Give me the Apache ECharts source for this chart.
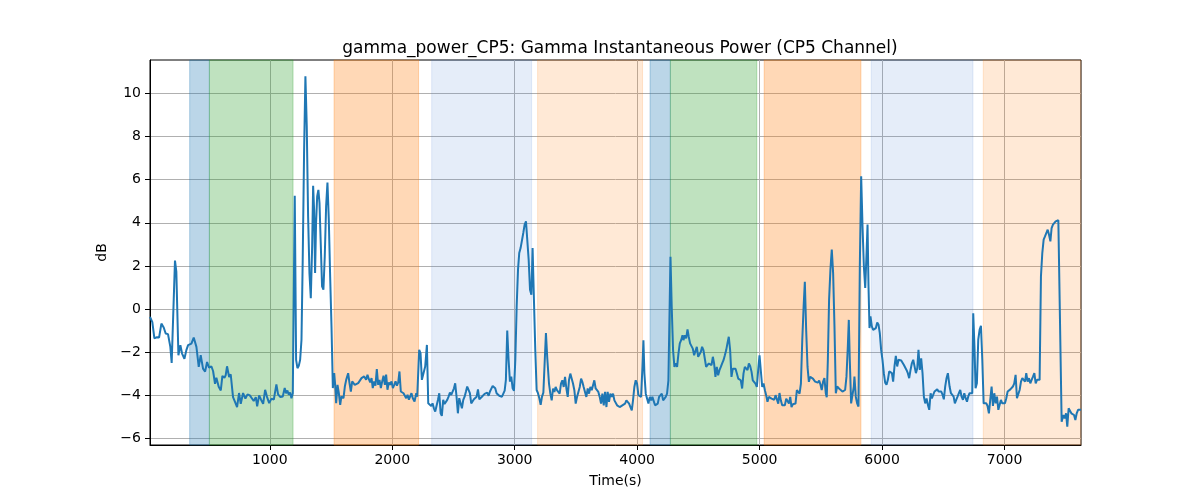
<!DOCTYPE html>
<html>
<head>
<meta charset="utf-8">
<script src="https://cdn.jsdelivr.net/npm/echarts@6/dist/echarts.min.js"></script>
<style>
html,body{margin:0;padding:0;background:#fff;}
#chart{width:1200px;height:500px;}
</style>
</head>
<body>
<div id="chart"></div>
<script>
// ---------------- DATA ----------------
const chartTitle = 'gamma_power_CP5: Gamma Instantaneous Power (CP5 Channel)';
const xName = 'Time(s)';
const yName = 'dB';
const xTicks = [1000, 2000, 3000, 4000, 5000, 6000, 7000];
const yTicks = [-6, -4, -2, 0, 2, 4, 6, 8, 10];
const xRange = [22, 7624];
const yRange = [-6.3, 11.55];

const timeSec = [
22,41,58,79,96,115,134,150,169,188,199,210,226,237,254,270,284,303,319,333,346,360,379,401,420,436,455,472,488,504,523,537,553,564,583,600,613,630,640,651,668,681,700,717,733,749,763,782,801,818,837,853,869,886,897,913,929,946,962,978,995,1014,1033,1054,1068,1087,
1106,1122,1133,1144,1155,1166,1177,1188,1204,1215,1226,1237,1248,1259,1269,1280,1291,1302,1313,1324,1335,1346,1354,1362,1370,1378,1387,1397,1406,1417,1427,1438,1449,1460,1471,1482,1493,1504,1515,1526,1534,1542,1553,1564,1575,1585,1602,1613,1624,1640,1651,1662,1673,1684,1694,1705,1722,1738,1749,1760,1771,1787,1798,1809,1820,1831,1841,1852,1863,1874,1885,1896,1907,1918,1929,1940,1950,1961,1972,1983,1994,2005,2016,2027,2038,2049,2059,2070,2081,2092,2103,2114,2125,2136,2147,2157,2168,2182,2196,
2204,2220,2231,2242,2258,2269,2283,2294,2307,2318,2329,2340,2351,2362,2373,2384,2395,2405,2416,2427,2438,2449,2460,2471,2482,2493,2504,2514,2525,2536,2547,2558,2569,2580,2591,2602,2612,2623,2634,2645,2656,2667,2678,2689,2700,2711,2721,2732,2743,2754,2765,2776,2787,2798,2809,2820,2830,2841,2852,2863,2874,2885,2896,2907,2918,2928,2939,2950,2961,2972,2983,2994,3005,3016,3027,3037,3048,3059,3070,3081,3092,3103,3114,3125,3136,3146,3157,3168,3179,3190,3201,3212,3223,3234,3245,3255,3266,
3280,3291,3302,3313,3324,3334,3345,3356,3367,3378,3389,3400,3411,3422,3433,3443,3454,3465,3476,3487,3498,3509,3520,3531,3542,3552,3563,3574,3585,3596,3607,3618,3629,3640,3650,3661,3672,3683,3694,3705,3716,3727,3738,3749,3759,3770,3781,3792,3803,3814,3825,3836,3847,3857,3868,3879,3890,3901,3912,3923,3934,3945,3956,3966,3977,3988,3999,4010,4021,4032,4043,4051,4059,4070,4081,4092,4103,4114,4124,4135,4146,4157,4168,4179,4190,4201,4212,4223,4233,4244,4255,4272,4282,4293,4304,4315,4326,4337,4348,4359,4370,
4378,4389,4400,4411,4421,4432,4443,4454,4465,4476,4487,4498,4509,4520,4530,4541,4552,4563,4574,4585,4596,4607,4618,4628,4639,4650,4661,4672,4683,4694,4705,4716,4727,4737,4748,4759,4770,4781,4792,4803,4814,4825,4836,4846,4857,4868,4879,4890,4901,4912,4923,4934,4944,4955,4966,4977,4988,4999,5010,5021,5032,5043,5053,5064,5075,5086,5097,5108,5119,5130,5141,5152,5162,5173,5184,5195,5206,5217,5228,5239,5250,5260,5271,5282,5293,5304,5315,5326,5337,5348,5359,5369,5380,5391,5402,5413,5424,5435,5446,
5453,5464,5475,5486,5497,5507,5518,5529,5540,5548,5557,5567,5578,5589,5600,5611,5622,5633,5644,5655,5665,5676,5687,5698,5709,5720,5728,5736,5747,5758,5769,5774,5785,5796,5807,5818,5829,5840,5851,5862,5873,5881,5889,5897,5905,5916,5927,5938,5949,5960,5971,5981,5992,6003,6014,6025,6036,6047,6058,6069,6080,6090,6101,6112,6123,6134,6145,6156,6167,6178,6188,6199,6210,6221,6232,6243,6254,6265,6276,6287,6297,6308,6319,6330,6341,6352,6363,6374,6385,6396,6406,6417,6428,6439,6450,6461,6472,6483,6494,6504,6515,6526,6537,
6540,6551,6562,6573,6584,6594,6605,6616,6627,6638,6649,6660,6671,6682,6693,6703,6714,6725,6736,6744,6755,6763,6774,6785,6796,6807,6818,6829,6840,6851,6861,6872,6883,6894,6905,6916,6927,6938,6949,6960,6970,6981,6992,7003,7014,7025,7036,7047,7058,7068,7079,7090,7101,7112,7123,7134,7145,7156,7167,7177,7188,7199,7210,7221,7232,7243,7254,7265,7275,7286,7297,7308,7319,7330,7341,7352,7363,7374,7384,7395,7406,7417,7428,7439,7444,7466,7480,7491,7502,7512,7523,7534,7545,7556,7567,7578,7589,7600,7616,7624
];

const gammaDb = [
-0.36,-0.6,-1.36,-1.3,-1.32,-0.67,-0.85,-1.13,-1.16,-1.75,-2.5,-2.45,2.25,1.74,-2.14,-1.67,-2.06,-2.3,-1.9,-1.67,-1.75,-1.6,-1.32,-1.75,-2.68,-2.14,-2.76,-2.9,-2.45,-2.71,-2.65,-2.87,-3.46,-3.18,-3.6,-3.77,-3.1,-3.18,-3.07,-2.65,-3.15,-3.02,-4.08,-4.31,-4.54,-3.89,-4.39,-3.89,-4.15,-3.95,-4.0,-4.08,-4.26,-4.08,-4.51,-4.0,-4.2,-4.39,-3.74,-4.08,-4.36,-4.15,-4.2,-3.49,-3.95,-4.08,
-4.05,-3.66,-3.9,-3.77,-3.97,-3.86,-4.13,-3.9,5.26,-2.35,-2.74,-2.63,-2.35,-1.42,2.29,7.23,10.79,8.47,4.3,1.67,0.51,2.9,5.72,4.6,1.67,3.99,5.22,5.53,4.92,2.9,1.05,0.9,2.44,4.76,5.87,4.14,1.51,-0.8,-3.66,-2.97,-3.51,-4.36,-3.51,-3.9,-4.44,-4.05,-4.13,-3.59,-3.28,-2.97,-3.43,-3.82,-3.35,-3.35,-3.51,-3.59,-3.43,-3.51,-3.2,-3.25,-3.12,-3.28,-3.04,-3.25,-3.4,-3.2,-3.66,-3.35,-3.55,-2.78,-3.51,-3.28,-3.66,-3.35,-3.09,-3.51,-3.04,-3.74,-3.4,-3.51,-3.35,-3.66,-3.51,-3.35,-3.55,-3.4,-2.89,-3.82,-3.9,-3.9,-3.97,-4.13,-3.97,-4.2,-4.28,-3.9,-4.13,-4.28,-3.9,
-4.06,-1.89,-2.04,-3.28,-3.2,-2.66,-1.66,-4.37,-4.4,-4.49,-4.37,-4.6,-4.75,-4.75,-4.21,-3.9,-4.83,-4.95,-4.21,-4.4,-4.49,-4.21,-4.06,-3.87,-3.98,-3.82,-3.67,-3.44,-4.06,-4.83,-4.13,-4.21,-4.6,-4.21,-4.06,-3.82,-3.59,-3.51,-3.9,-4.37,-4.29,-4.18,-4.13,-4.06,-3.72,-4.18,-4.13,-4.06,-3.98,-3.93,-3.9,-3.87,-4.02,-3.82,-3.75,-3.56,-3.59,-3.67,-3.9,-3.98,-4.02,-4.02,-4.06,-3.98,-3.78,-3.28,-0.99,-2.35,-3.36,-3.13,-3.67,-3.78,-2.35,0.12,1.83,2.6,2.83,2.91,3.53,3.92,4.07,4.02,2.29,0.9,0.67,2.83,0.43,-1.89,-3.75,-3.9,-4.13,-4.44,-4.06,-3.87,-3.82,-1.11,-2.28,
-3.45,-3.92,-4.23,-3.68,-3.84,-3.61,-3.76,-3.84,-3.92,-3.45,-3.3,-3.61,-3.14,-3.68,-4.07,-3.3,-2.99,-2.91,-3.45,-3.76,-4.38,-4.07,-3.99,-3.61,-3.22,-3.37,-3.61,-3.58,-4.07,-3.68,-3.92,-3.61,-3.76,-3.84,-3.3,-3.68,-3.76,-3.84,-4.07,-4.38,-3.92,-4.46,-3.84,-4.54,-3.84,-4.3,-3.92,-4.07,-3.92,-4.23,-4.3,-4.46,-4.5,-4.54,-4.5,-4.46,-4.54,-4.38,-4.23,-4.3,-4.38,-4.54,-4.69,-4.23,-3.61,-3.3,-3.45,-3.99,-4.07,-4.07,-2.68,-1.44,-2.99,-3.92,-4.15,-4.38,-4.07,-4.23,-4.07,-4.15,-4.46,-4.54,-4.38,-4.07,-4.07,-3.92,-4.23,-4.3,-4.07,-3.92,-3.3,2.43,0.11,-1.9,-2.68,-2.52,-2.68,-2.06,-1.59,-1.44,-1.21,
-1.44,-1.21,-1.36,-0.94,-1.28,-1.59,-1.52,-1.83,-2.14,-2.06,-1.75,-2.21,-2.14,-1.98,-1.75,-1.9,-2.29,-2.68,-2.6,-2.52,-2.45,-2.6,-2.21,-2.52,-3.14,-2.68,-3.07,-2.83,-2.68,-2.52,-2.37,-2.14,-1.9,-1.59,-1.28,-1.9,-3.14,-2.76,-2.83,-2.76,-2.99,-3.22,-3.14,-3.3,-3.68,-2.99,-2.68,-2.76,-2.83,-2.52,-2.65,-2.91,-3.3,-3.27,-3.45,-3.61,-2.83,-2.14,-2.21,-3.61,-3.45,-3.76,-3.99,-4.3,-4.07,-4.15,-4.15,-4.07,-4.2,-3.99,-3.95,-4.38,-3.89,-4.23,-4.46,-4.54,-4.46,-4.15,-4.07,-4.38,-4.07,-4.54,-4.41,-4.46,-4.38,-3.76,-3.84,-3.92,-3.45,-1.44,0.11,1.27,-0.98,-2.68,-3.37,-3.14,-3.22,-3.22,-3.3,
-3.36,-3.28,-3.41,-3.31,-3.51,-3.75,-3.36,-3.2,-3.9,-4.09,-2.35,0.43,1.83,2.76,1.67,-0.8,-3.9,-3.59,-3.67,-3.72,-3.75,-3.82,-3.9,-3.75,-3.13,-1.73,-0.5,-2.35,-4.37,-4.44,-3.59,-3.13,-4.06,-4.37,-4.52,1.98,6.16,3.84,1.98,0.98,2.6,3.92,1.05,-0.88,-0.34,-0.8,-0.96,-1.04,-0.88,-0.62,-0.73,-1.11,-1.89,-2.35,-2.97,-3.41,-3.51,-3.28,-2.89,-2.82,-2.97,-3.36,-2.66,-2.17,-2.66,-2.35,-2.43,-2.38,-2.43,-2.59,-2.51,-2.82,-2.97,-3.2,-2.82,-2.51,-2.35,-2.35,-2.97,-2.74,-1.89,-2.82,-2.28,-2.97,-4.06,-4.37,-4.14,-4.44,-4.67,-3.9,-4.14,-3.98,-3.82,-3.75,-3.72,-3.82,-3.9,-3.82,-3.98,-4.18,-3.59,-3.2,-2.97,
-2.89,-3.59,-3.9,-3.98,-4.06,-4.37,-4.21,-4.06,-3.9,-3.75,-4.06,-4.21,-3.9,-4.13,-4.29,-4.06,-3.9,-3.82,-3.9,-0.19,-1.89,-3.67,-3.44,-1.42,-0.96,-0.77,-2.35,-4.37,-4.44,-4.37,-4.49,-4.83,-4.21,-3.59,-4.49,-3.9,-4.37,-4.06,-4.67,-4.75,-4.21,-4.37,-4.29,-4.37,-4.13,-3.82,-3.75,-3.72,-3.78,-3.59,-3.44,-3.05,-4.13,-4.13,-3.75,-3.36,-3.2,-3.25,-3.36,-2.97,-3.36,-3.2,-3.44,-3.28,-3.13,-2.97,-3.44,-3.28,-3.36,-3.28,1.52,2.6,3.22,3.37,3.41,3.68,3.45,3.14,3.76,3.92,3.96,4.07,4.15,4.12,4.1,-5.22,-4.91,-5.06,-4.83,-5.45,-4.6,-4.67,-4.83,-4.91,-4.91,-5.14,-4.83,-4.67,-4.64,-4.67
];

// shaded periods (seconds) and their kind
const spanStart = [346, 507, 1525, 2322, 3187, 4105, 4271, 5037, 5911, 6826];
const spanEnd   = [507, 1190, 2215, 3138, 4044, 4271, 4977, 5827, 6742, 7624];
const spanKind  = ['blue', 'green', 'orange', 'lightblue', 'lightorange', 'blue', 'green', 'orange', 'lightblue', 'lightorange'];

// ---------------- STYLE ----------------
const kindColor = {
  blue: 'rgba(31,119,180,0.3)',
  green: 'rgba(44,160,44,0.3)',
  orange: 'rgba(255,127,14,0.3)',
  lightblue: 'rgba(70,130,210,0.14)',
  lightorange: 'rgba(255,127,14,0.17)'
};
const FONT = 'DejaVu Sans';
const minus = v => String(v).replace('-', '\u2212');

const lineData = timeSec.map((t, i) => [t, gammaDb[i]]);
const areas = spanStart.map((s, i) => [
  { xAxis: s, itemStyle: { color: kindColor[spanKind[i]], borderColor: kindColor[spanKind[i]], borderWidth: 1 } },
  { xAxis: spanEnd[i] }
]);

const chart = echarts.init(document.getElementById('chart'), null, { renderer: 'canvas' });
chart.setOption({
  backgroundColor: '#ffffff',
  animation: false,
  title: {
    text: chartTitle,
    left: 615,
    textAlign: 'center',
    top: 35,
    textStyle: { fontFamily: FONT, fontSize: 17, fontWeight: 'normal', color: '#000' }
  },
  grid: {
    left: 150, right: 119, top: 60, bottom: 55,
    show: true, borderColor: '#000', borderWidth: 1, backgroundColor: 'transparent'
  },
  xAxis: {
    type: 'value',
    min: xRange[0], max: xRange[1],
    splitNumber: 8,
    name: xName, nameLocation: 'middle', nameGap: 29,
    nameTextStyle: { fontFamily: FONT, fontSize: 14, color: '#000' },
    axisLine: { show: true, onZero: false, lineStyle: { color: '#000', width: 1 } },
    axisTick: { show: true, length: 5, lineStyle: { color: '#000', width: 1 }, customValues: xTicks },
    axisLabel: { fontFamily: FONT, fontSize: 14, color: '#000', margin: 8, customValues: xTicks,
      formatter: v => minus(v) },
    splitLine: { show: true, lineStyle: { color: '#b0b0b0', width: 1 } }
  },
  yAxis: {
    type: 'value',
    min: yRange[0], max: yRange[1],
    splitNumber: 9,
    name: yName, nameLocation: 'middle', nameGap: 36, nameRotate: 90,
    nameTextStyle: { fontFamily: FONT, fontSize: 14, color: '#000' },
    axisLine: { show: true, onZero: false, lineStyle: { color: '#000', width: 1 } },
    axisTick: { show: true, length: 5, lineStyle: { color: '#000', width: 1 }, customValues: yTicks },
    axisLabel: { fontFamily: FONT, fontSize: 14, color: '#000', margin: 9, customValues: yTicks,
      formatter: v => minus(v) },
    splitLine: { show: true, lineStyle: { color: '#b0b0b0', width: 1 } }
  },
  series: [
    {
      type: 'line', z: 1, silent: true,
      data: lineData, showSymbol: false,
      lineStyle: { opacity: 0, width: 0 },
      markArea: { silent: true, data: areas }
    },
    {
      type: 'line', z: 5,
      data: lineData, showSymbol: false,
      lineStyle: { color: '#1f77b4', width: 2 },
      itemStyle: { color: '#1f77b4' }
    }
  ]
});
</script>
</body>
</html>
